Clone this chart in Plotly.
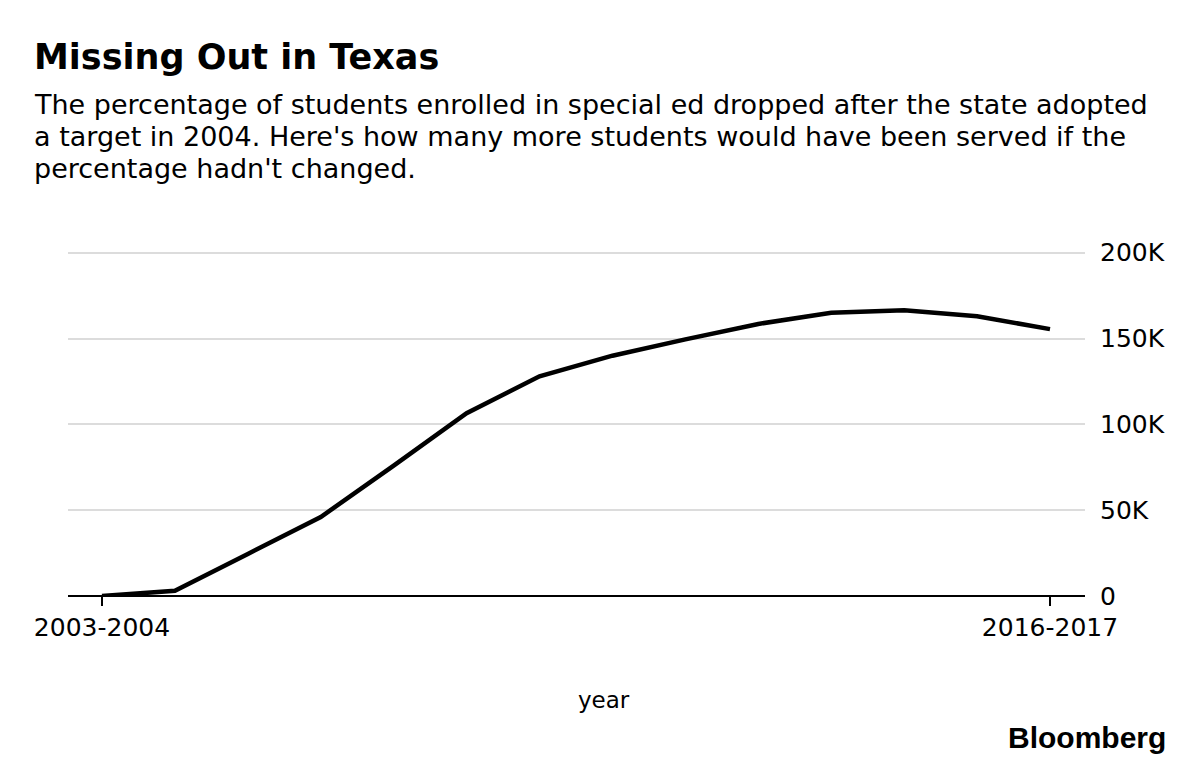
import plotly.graph_objects as go

# School years shown on the x axis
years = ["2003-2004", "2004-2005", "2005-2006", "2006-2007", "2007-2008",
         "2008-2009", "2009-2010", "2010-2011", "2011-2012", "2012-2013",
         "2013-2014", "2014-2015", "2015-2016", "2016-2017"]

# Additional students who would have been served
students = [0, 3000, 24500, 46000, 76000, 106500, 128000, 140000,
            149500, 158500, 165000, 166500, 163000, 155500]

y_ticks = [0, 50000, 100000, 150000, 200000]
y_tick_text = ["0", "50K", "100K", "150K", "200K"]

title = "Missing Out in Texas"
subtitle = ["The percentage of students enrolled in special ed dropped after the state adopted",
            "a target in 2004. Here's how many more students would have been served if the",
            "percentage hadn't changed."]

idx = list(range(len(years)))

# page has an 8px body margin, so page px -> paper coords
PW, PH = 1017, 344.7
def px(x):
    return (x - 68) / PW
def py(y):
    return (596 - y) / PH

txt_font = "DejaVu Sans, Verdana, sans-serif"

fig = go.Figure()
fig.add_trace(go.Scatter(x=idx, y=students, mode="lines",
                         line=dict(color="black", width=4.5),
                         hoverinfo="skip", showlegend=False))

fig.update_layout(
    width=1200, height=768,
    paper_bgcolor="white", plot_bgcolor="white",
    margin=dict(l=60, r=123, t=243, b=180, pad=0),
    font=dict(family=txt_font, color="black"),
    xaxis=dict(
        range=[-0.466, 13.48],
        tickvals=[idx[0], idx[-1]],
        ticktext=[years[0], years[-1]],
        ticks="outside", ticklen=9, tickwidth=1.5, tickcolor="black",
        showgrid=False, zeroline=False, showline=False,
        tickfont=dict(size=25, color="black"),
    ),
    yaxis=dict(
        range=[0, 201000],
        side="right",
        tickvals=y_ticks, ticktext=y_tick_text,
        showgrid=True, gridcolor="#dcdcdc", gridwidth=2,
        zeroline=True, zerolinecolor="black", zerolinewidth=1.5,
        ticks="", ticklabelstandoff=14,
        tickfont=dict(size=25, color="black"),
    ),
)

fig.add_annotation(text="<b>" + title + "</b>", xref="paper", yref="paper",
                   x=px(32), y=py(57), xanchor="left", yanchor="middle",
                   showarrow=False, font=dict(size=35, family=txt_font, color="black"))
for i, line in enumerate(subtitle):
    fig.add_annotation(text=line, xref="paper", yref="paper",
                       x=px(32), y=py(105 + 32 * i), xanchor="left", yanchor="middle",
                       showarrow=False, font=dict(size=27, family=txt_font, color="black"))
fig.add_annotation(text="year", xref="paper", yref="paper",
                   x=px(604), y=py(700), xanchor="center", yanchor="middle",
                   showarrow=False, font=dict(size=23, family=txt_font, color="black"))
fig.add_annotation(text="<b>Bloomberg</b>", xref="paper", yref="paper",
                   x=px(1168), y=py(737), xanchor="right", yanchor="middle",
                   showarrow=False, font=dict(size=30, family="Liberation Sans, Arial, sans-serif",
                                              color="black"))

fig.write_html("out.html")
